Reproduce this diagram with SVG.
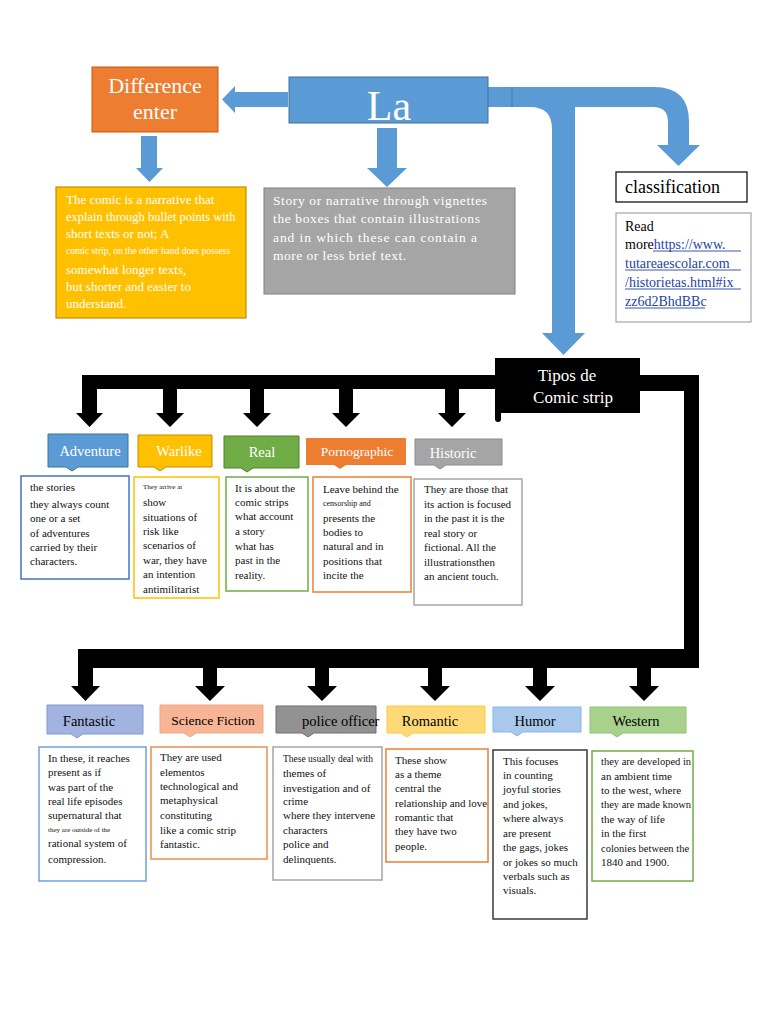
<svg xmlns="http://www.w3.org/2000/svg" width="768" height="1024" viewBox="0 0 768 1024">
<style>
text{font-family:"Liberation Serif","Times New Roman",serif}
.w{fill:#fff}
.b{fill:#000}
.body{font-size:11px;fill:#111}
.hd{font-size:14.5px;text-anchor:middle}
.blue{fill:#5B9BD5}
.blk{fill:#000}
.desc{fill:#fff;stroke-width:1.5}
.lnk{fill:#2343A8}
</style>
<rect width="768" height="1024" fill="#fff"/>

<g id="connectors">
  <!-- blue arrows -->
  <path class="blue" d="M288,92 L235,92 L235,86 L222,99.5 L235,113 L235,107 L288,107 Z"/>
  <path class="blue" d="M141,136 H157 V168 H163 L149.5,182 L136,168 H141 Z"/>
  <path class="blue" d="M377,128 H397 V168 H407 L387,187 L367,168 H377 Z"/>
  <rect class="blue" x="488" y="87" width="26" height="20"/>
  <path class="blue" d="M512,87 L575,87 L575,333 L585,333 L563.5,355 L542,333 L552,333 L552,129 Q552,107 530,107 L512,107 Z"/>
  <path class="blue" d="M512,87 L654,87 Q689,87 689,122 L689,145 L700,145 L678.5,166 L657,145 L668,145 L668,122 Q668,107 653,107 L512,107 Z"/>
  <line x1="512" y1="87" x2="512" y2="107" stroke="#41719C" stroke-width="0.8"/>
  <!-- black connectors: row 1 -->
  <rect class="blk" x="82" y="375" width="414" height="14"/>
  <path class="blk" d="M82,389 H97 V413 H103 L89.5,427 L76,413 H82 Z"/>
  <path class="blk" d="M163,389 H177 V413 H184 L170,427 L156,413 H163 Z"/>
  <path class="blk" d="M250,389 H264 V413 H271 L257,427 L243,413 H250 Z"/>
  <path class="blk" d="M339,389 H353 V413 H360 L346,427 L332,413 H339 Z"/>
  <path class="blk" d="M445,389 H459 V413 H466 L452,427 L438,413 H445 Z"/>
  <!-- black connectors: right side and row 2 -->
  <path class="blk" d="M638,375 H699 V668 H78 V649 H684 V391 H638 Z"/>
  <path class="blk" d="M78,668 H93 V686 H100 L85.5,701 L71,686 H78 Z"/>
  <path class="blk" d="M203,668 H217 V686 H225 L210,701 L195,686 H203 Z"/>
  <path class="blk" d="M315,668 H329 V686 H337 L322,701 L307,686 H315 Z"/>
  <path class="blk" d="M428,668 H442 V686 H450 L435,701 L420,686 H428 Z"/>
  <path class="blk" d="M533,668 H547 V686 H555 L540,701 L525,686 H533 Z"/>
  <path class="blk" d="M637,668 H651 V686 H659 L644,701 L629,686 H637 Z"/>
</g>

<g id="difference">
  <rect x="92" y="67" width="126" height="65" fill="#ED7D31" stroke="#C55A11" stroke-width="1"/>
  <text x="155" y="93" class="w" font-size="22" text-anchor="middle">Difference</text>
  <text x="155" y="119" class="w" font-size="22" text-anchor="middle">enter</text>
</g>

<g id="la">
  <rect x="289" y="77" width="199" height="46" fill="#5B9BD5" stroke="#41719C" stroke-width="1"/>
  <text x="389" y="120" class="w" font-size="42" text-anchor="middle">La</text>
</g>

<g id="comic-def">
  <rect x="56" y="187" width="190" height="131" fill="#FFC000" stroke="#BF9000" stroke-width="1.2"/>
  <g class="w" font-size="13">
    <text x="66" y="204">The comic is a narrative that</text>
    <text x="66" y="221" font-size="12.5">explain through bullet points with</text>
    <text x="66" y="238">short texts or not; A</text>
    <text x="66" y="254" font-size="9.5">comic strip, on the other hand does possess</text>
    <text x="66" y="274">somewhat longer texts,</text>
    <text x="66" y="291">but shorter and easier to</text>
    <text x="66" y="308">understand.</text>
  </g>
</g>

<g id="story-def">
  <rect x="264" y="188" width="251" height="106" fill="#A5A5A5" stroke="#7F7F7F" stroke-width="1"/>
  <g class="w" font-size="13.5">
    <text x="273" y="205" textLength="214" lengthAdjust="spacing">Story or narrative through vignettes</text>
    <text x="273" y="223" textLength="207" lengthAdjust="spacing">the boxes that contain illustrations</text>
    <text x="273" y="242" textLength="204" lengthAdjust="spacing">and in which these can contain a</text>
    <text x="273" y="260" textLength="133" lengthAdjust="spacing">more or less brief text.</text>
  </g>
</g>

<g id="classification">
  <rect x="616" y="172" width="131" height="30" fill="#fff" stroke="#000" stroke-width="1.2"/>
  <text x="625" y="193" font-size="18" fill="#000">classification</text>
</g>

<g id="read-more">
  <rect x="616" y="213" width="135" height="109" fill="#fff" stroke="#A6A6A6" stroke-width="1.2"/>
  <g font-size="14">
    <text x="625" y="231" fill="#000">Read</text>
    <text x="625" y="249" fill="#000">more<tspan class="lnk">https://www.</tspan></text>
    <text x="625" y="268" class="lnk">tutareaescolar.com</text>
    <text x="625" y="287" class="lnk">/historietas.html#ix</text>
    <text x="625" y="306" class="lnk">zz6d2BhdBBc</text>
  </g>
  <g stroke="#2343A8" stroke-width="0.9">
    <line x1="653" y1="251" x2="741" y2="251"/>
    <line x1="625" y1="270" x2="741" y2="270"/>
    <line x1="625" y1="289" x2="741" y2="289"/>
    <line x1="625" y1="308" x2="705" y2="308"/>
  </g>
</g>

<g id="tipos">
  <rect x="495" y="358" width="145" height="55" fill="#000"/>
  <rect x="495" y="400" width="6" height="22" rx="3" fill="#000"/>
  <text x="567" y="381" class="w" font-size="17" text-anchor="middle">Tipos de</text>
  <text x="573" y="403" class="w" font-size="17" text-anchor="middle">Comic strip</text>
</g>

<!-- Row 1 -->
<g id="adventure">
  <path d="M48,434 H128 V467 H78 L72,471 L66,467 H48 Z" fill="#5B9BD5" stroke="#41719C" stroke-width="1"/>
  <text x="90" y="456" class="hd w">Adventure</text>
  <rect x="21" y="476" width="108" height="103" class="desc" stroke="#4472C4"/>
  <g class="body">
    <text x="30" y="491">the stories</text>
    <text x="30" y="508">they always count</text>
    <text x="30" y="522">one or a set</text>
    <text x="30" y="537">of adventures</text>
    <text x="30" y="551">carried by their</text>
    <text x="30" y="565">characters.</text>
  </g>
</g>

<g id="warlike">
  <path d="M138,435 H212 V467 H166 L160,471 L154,467 H138 Z" fill="#FFC000" stroke="#BF9000" stroke-width="1"/>
  <text x="179" y="456" class="hd w">Warlike</text>
  <rect x="134" y="477" width="85" height="121" class="desc" stroke="#FFC000"/>
  <g class="body">
    <text x="143" y="489" font-size="7">They arrive at</text>
    <text x="143" y="506">show</text>
    <text x="143" y="521">situations of</text>
    <text x="143" y="535">risk like</text>
    <text x="143" y="549">scenarios of</text>
    <text x="143" y="564">war, they have</text>
    <text x="143" y="578">an intention</text>
    <text x="143" y="593">antimilitarist</text>
  </g>
</g>

<g id="real">
  <path d="M224,436 H299 V468 H253 L247,472 L241,468 H224 Z" fill="#70AD47" stroke="#507E32" stroke-width="1"/>
  <text x="262" y="457" class="hd w">Real</text>
  <rect x="226" y="477" width="82" height="114" class="desc" stroke="#70AD47"/>
  <g class="body">
    <text x="235" y="492">It is about the</text>
    <text x="235" y="506">comic strips</text>
    <text x="235" y="520">what account</text>
    <text x="235" y="535">a story</text>
    <text x="235" y="550">what has</text>
    <text x="235" y="564">past in the</text>
    <text x="235" y="579">reality.</text>
  </g>
</g>

<g id="pornographic">
  <path d="M306,438 H406 V465 H346 L340,469 L334,465 H306 Z" fill="#ED7D31"/>
  <text x="357" y="456" class="w" font-size="13.5" text-anchor="middle">Pornographic</text>
  <rect x="313" y="477" width="98" height="115" class="desc" stroke="#ED7D31"/>
  <g class="body">
    <text x="323" y="493">Leave behind the</text>
    <text x="323" y="506" font-size="8">censorship and</text>
    <text x="323" y="522">presents the</text>
    <text x="323" y="536">bodies to</text>
    <text x="323" y="550">natural and in</text>
    <text x="323" y="565">positions that</text>
    <text x="323" y="579">incite the</text>
  </g>
</g>

<g id="historic">
  <path d="M415,439 H502 V465 H446 L440,469 L434,465 H415 Z" fill="#A5A5A5" stroke="#8C8C8C" stroke-width="1"/>
  <text x="453" y="458" class="hd w">Historic</text>
  <rect x="414" y="479" width="108" height="126" class="desc" stroke="#A5A5A5"/>
  <g class="body">
    <text x="424" y="493">They are those that</text>
    <text x="424" y="508">its action is focused</text>
    <text x="424" y="522">in the past it is the</text>
    <text x="424" y="537">real story or</text>
    <text x="424" y="551">fictional. All the</text>
    <text x="424" y="566">illustrationsthen</text>
    <text x="424" y="580">an ancient touch.</text>
  </g>
</g>

<!-- Row 2 -->
<g id="fantastic">
  <path d="M47,705 H143 V734 H83 L77,738 L71,734 H47 Z" fill="#A3B3E0" stroke="#8497CF" stroke-width="1"/>
  <text x="89" y="726" class="hd b">Fantastic</text>
  <rect x="39" y="747" width="107" height="134" class="desc" stroke="#6FA3DC"/>
  <g class="body">
    <text x="48" y="762">In these, it reaches</text>
    <text x="48" y="776">present as if</text>
    <text x="48" y="791">was part of the</text>
    <text x="48" y="805">real life episodes</text>
    <text x="48" y="819">supernatural that</text>
    <text x="48" y="832" font-size="7">they are outside of the</text>
    <text x="48" y="847">rational system of</text>
    <text x="48" y="863">compression.</text>
  </g>
</g>

<g id="science-fiction">
  <path d="M160,705 H263 V733 H196 L190,737 L184,733 H160 Z" fill="#F8B596" stroke="#F4A57E" stroke-width="1"/>
  <text x="213" y="725" class="b" font-size="13.5" text-anchor="middle">Science Fiction</text>
  <rect x="151" y="747" width="116" height="112" class="desc" stroke="#F08C4E"/>
  <g class="body">
    <text x="160" y="761">They are used</text>
    <text x="160" y="776">elementos</text>
    <text x="160" y="790">technological and</text>
    <text x="160" y="804">metaphysical</text>
    <text x="160" y="819">constituting</text>
    <text x="160" y="834">like a comic strip</text>
    <text x="160" y="848">fantastic.</text>
  </g>
</g>

<g id="police-officer">
  <path d="M276,706 H376 V733 H314 L308,737 L302,733 H276 Z" fill="#929292" stroke="#6E6E6E" stroke-width="1"/>
  <text x="302" y="726" class="b" font-size="14.5">police officer</text>
  <rect x="273" y="747" width="109" height="133" class="desc" stroke="#A5A5A5"/>
  <g class="body">
    <text x="283" y="762" font-size="9.5">These usually deal with</text>
    <text x="283" y="777">themes of</text>
    <text x="283" y="792">investigation and of</text>
    <text x="283" y="805">crime</text>
    <text x="283" y="819">where they intervene</text>
    <text x="283" y="834">characters</text>
    <text x="283" y="848">police and</text>
    <text x="283" y="863">delinquents.</text>
  </g>
</g>

<g id="romantic">
  <path d="M387,706 H485 V733 H413 L407,737 L401,733 H387 Z" fill="#FFD978" stroke="#FFC83D" stroke-width="1"/>
  <text x="430" y="726" class="hd b">Romantic</text>
  <rect x="386" y="749" width="102" height="113" class="desc" stroke="#ED7D31"/>
  <g class="body">
    <text x="395" y="764">These show</text>
    <text x="395" y="778">as a theme</text>
    <text x="395" y="792">central the</text>
    <text x="395" y="807">relationship and love</text>
    <text x="395" y="821">romantic that</text>
    <text x="395" y="835">they have two</text>
    <text x="395" y="850">people.</text>
  </g>
</g>

<g id="humor">
  <path d="M493,707 H581 V732 H523 L517,736 L511,732 H493 Z" fill="#A9C9EC" stroke="#8CB3E0" stroke-width="1"/>
  <text x="535" y="726" class="hd b">Humor</text>
  <rect x="493" y="750" width="94" height="169" class="desc" stroke="#3A3A3A"/>
  <g class="body">
    <text x="503" y="765">This focuses</text>
    <text x="503" y="779">in counting</text>
    <text x="503" y="793">joyful stories</text>
    <text x="503" y="808">and jokes,</text>
    <text x="503" y="822">where always</text>
    <text x="503" y="837">are present</text>
    <text x="503" y="851">the gags, jokes</text>
    <text x="503" y="866">or jokes so much</text>
    <text x="503" y="880">verbals such as</text>
    <text x="503" y="894">visuals.</text>
  </g>
</g>

<g id="western">
  <path d="M590,707 H686 V733 H623 L617,737 L611,733 H590 Z" fill="#A9D18E" stroke="#92C273" stroke-width="1"/>
  <text x="636" y="726" class="hd b">Western</text>
  <rect x="592" y="751" width="101" height="130" class="desc" stroke="#70AD47"/>
  <g class="body">
    <text x="601" y="765" font-size="10.5">they are developed in</text>
    <text x="601" y="780">an ambient time</text>
    <text x="601" y="794">to the west, where</text>
    <text x="601" y="808" font-size="10.5">they are made known</text>
    <text x="601" y="823">the way of life</text>
    <text x="601" y="837">in the first</text>
    <text x="601" y="852" font-size="10.5">colonies between the</text>
    <text x="601" y="866">1840 and 1900.</text>
  </g>
</g>
</svg>
